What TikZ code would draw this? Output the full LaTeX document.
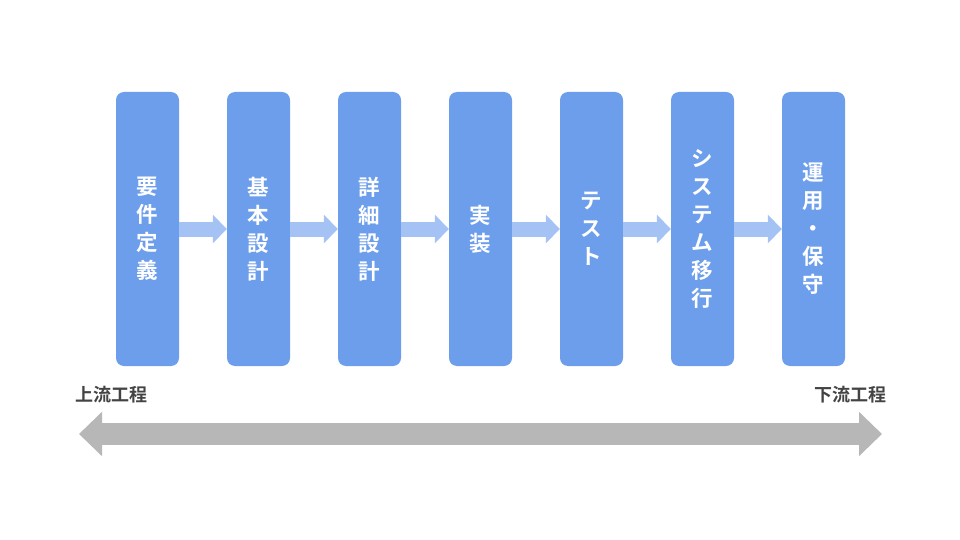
\documentclass[tikz,border=0pt]{standalone}
\usepackage{fontspec}
\setmainfont{Noto Sans CJK JP}[BoldFont={Noto Sans CJK JP Bold}]
\usetikzlibrary{arrows.meta}
\definecolor{phaseblue}{HTML}{6D9EEB}
\definecolor{flowblue}{HTML}{A4C2F4}
\definecolor{spangray}{HTML}{B7B7B7}
\definecolor{labelgray}{HTML}{434343}
\tikzset{
  phase/.style={fill=phaseblue,rounded corners=8pt,minimum width=63pt,minimum height=274pt,
    inner sep=0pt,align=center,text=white,font=\bfseries\fontsize{21.5}{28}\selectfont},
  flow/.style={draw=flowblue,line width=15pt,-{Triangle[length=14pt,width=28pt]}},
  span/.style={draw=spangray,line width=22pt,{Triangle[length=23pt,width=43pt]}-{Triangle[length=23pt,width=43pt]}},
  stage/.style={text=labelgray,inner sep=0pt,font=\bfseries\fontsize{18}{20}\selectfont}
}
\begin{document}
\begin{tikzpicture}[x=1pt,y=-1pt]
\useasboundingbox (0,0) rectangle (960,540);

\node[phase] (p1) at (147.5,229) {要\\件\\定\\義};
\node[phase] (p2) at (258.5,229) {基\\本\\設\\計};
\node[phase] (p3) at (369.5,229) {詳\\細\\設\\計};
\node[phase] (p4) at (480.5,229) {実\\装};
\node[phase] (p5) at (591.5,229) {テ\\ス\\ト};
\node[phase] (p6) at (702.5,229) {シ\\ス\\テ\\ム\\移\\行};
\node[phase] (p7) at (813.5,229) {運\\用\\・\\保\\守};
\draw[flow] (p1) -- (p2);
\draw[flow] (p2) -- (p3);
\draw[flow] (p3) -- (p4);
\draw[flow] (p4) -- (p5);
\draw[flow] (p5) -- (p6);
\draw[flow] (p6) -- (p7);

\coordinate (up) at (79,434);
\coordinate (down) at (882,434);
\draw[span] (up) -- (down);
\node[stage,anchor=west] (upper) at (75,395) {上流工程};
\node[stage,anchor=east] (lower) at (887,395) {下流工程};
\end{tikzpicture}
\end{document}
